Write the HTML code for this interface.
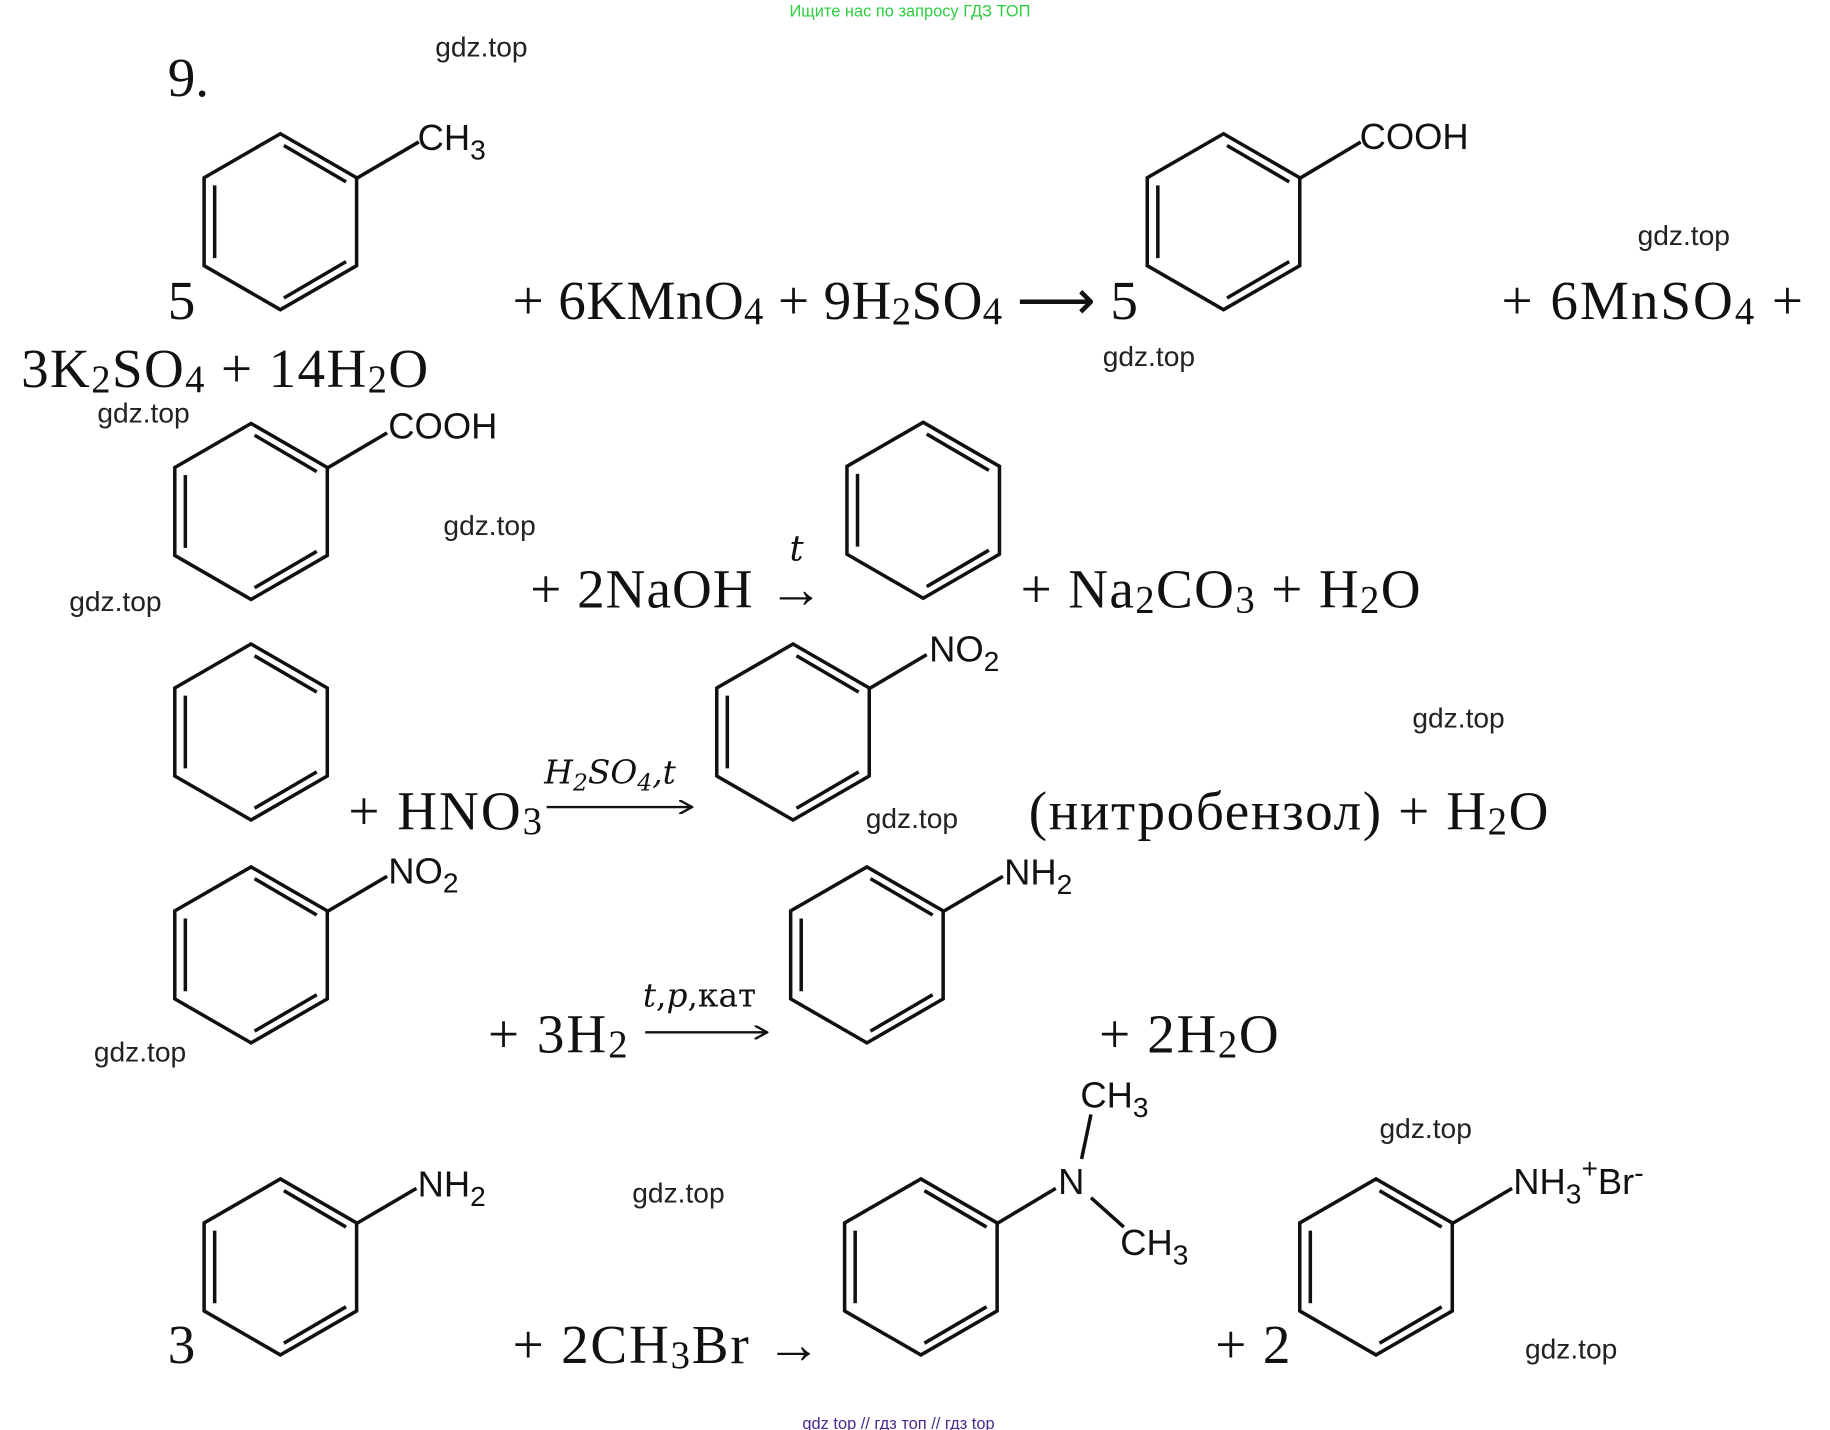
<!DOCTYPE html>
<html><head><meta charset="utf-8"><style>
html,body{margin:0;padding:0;background:#fff;}
svg{display:block}
.s{font-family:"Liberation Serif",serif;font-size:47px;fill:#111}
.a{font-family:"Liberation Sans",sans-serif;font-size:31px;fill:#111}
.w{font-family:"Liberation Sans",sans-serif;font-size:24px;fill:#222}
</style></head><body>
<svg width="1830" height="1430" viewBox="0 0 1560 1219" xmlns="http://www.w3.org/2000/svg">
<defs>
<g id="r" stroke="#111" stroke-width="3" fill="none">
<polygon points="0,-75 65,-37.5 65,37.5 0,75 -65,37.5 -65,-37.5"/>
<line x1="3" y1="-65" x2="56" y2="-34"/>
<line x1="56" y1="34" x2="3" y2="65"/>
<line x1="-56" y1="-31" x2="-56" y2="31"/>
</g>
<marker id="m" markerWidth="12" markerHeight="12" refX="11" refY="6" orient="auto" markerUnits="userSpaceOnUse"><path d="M0,0 L11,6 L0,12" fill="none" stroke="#111" stroke-width="2"/></marker>
</defs>
<text x="673" y="14" font-family="Liberation Sans,sans-serif" font-size="14" fill="#2ecc40">Ищите нас по запросу ГДЗ ТОП</text>
<text class="s" x="143" y="82">9.</text>
<g class="w"><text x="371" y="48">gdz.top</text><text x="1396" y="209">gdz.top</text><text x="940" y="312">gdz.top</text><text x="83" y="360">gdz.top</text><text x="378" y="456">gdz.top</text><text x="59" y="521">gdz.top</text><text x="1204" y="620">gdz.top</text><text x="738" y="706">gdz.top</text><text x="80" y="905">gdz.top</text><text x="1176" y="970">gdz.top</text><text x="539" y="1025">gdz.top</text><text x="1300" y="1158">gdz.top</text></g>

<!-- row 1 -->
<use href="#r" x="239" y="189"/>
<line x1="304" y1="152" x2="357" y2="121" stroke="#111" stroke-width="3"/>
<text class="a" x="356" y="128">CH<tspan font-size="24" dy="8">3</tspan></text>
<text class="s" x="143" y="272">5</text>
<text class="s" x="437" y="272" textLength="533" lengthAdjust="spacing">+ 6KMnO<tspan font-size="33" dy="4">4</tspan><tspan dy="-4"> + 9H</tspan><tspan font-size="33" dy="4">2</tspan><tspan dy="-4">SO</tspan><tspan font-size="33" dy="4">4</tspan><tspan dy="-4"> ⟶ 5</tspan></text>
<use href="#r" x="1043" y="189"/>
<line x1="1108" y1="152" x2="1160" y2="121" stroke="#111" stroke-width="3"/>
<text class="a" x="1159" y="127">COOH</text>
<text class="s" x="1280" y="272" textLength="257" lengthAdjust="spacing">+ 6MnSO<tspan font-size="33" dy="4">4</tspan><tspan dy="-4"> +</tspan></text>
<text class="s" x="18" y="330" textLength="347" lengthAdjust="spacing">3K<tspan font-size="33" dy="4">2</tspan><tspan dy="-4">SO</tspan><tspan font-size="33" dy="4">4</tspan><tspan dy="-4"> + 14H</tspan><tspan font-size="33" dy="4">2</tspan><tspan dy="-4">O</tspan></text>

<!-- row 2 -->
<use href="#r" x="214" y="436"/>
<line x1="279" y1="399" x2="330" y2="369" stroke="#111" stroke-width="3"/>
<text class="a" x="331" y="374">COOH</text>
<text class="s" x="452" y="518" textLength="250" lengthAdjust="spacing">+ 2NaOH →</text>
<text x="673" y="478" font-family="DejaVu Serif,serif" font-style="italic" font-size="30" fill="#111">t</text>
<use href="#r" x="787" y="435"/>
<text class="s" x="870" y="518" textLength="341" lengthAdjust="spacing">+ Na<tspan font-size="33" dy="4">2</tspan><tspan dy="-4">CO</tspan><tspan font-size="33" dy="4">3</tspan><tspan dy="-4"> + H</tspan><tspan font-size="33" dy="4">2</tspan><tspan dy="-4">O</tspan></text>

<!-- row 3 -->
<use href="#r" x="214" y="624"/>
<text class="s" x="297" y="707" textLength="165" lengthAdjust="spacing">+ HNO<tspan font-size="33" dy="4">3</tspan></text>
<line x1="466" y1="688" x2="590" y2="688" stroke="#111" stroke-width="2" marker-end="url(#m)"/>
<text x="464" y="668" font-family="DejaVu Serif,serif" font-style="italic" font-size="28" fill="#111">H<tspan font-size="20" dy="6">2</tspan><tspan dy="-6">SO</tspan><tspan font-size="20" dy="6">4</tspan><tspan dy="-6">,t</tspan></text>
<use href="#r" x="676" y="624"/>
<line x1="741" y1="587" x2="790" y2="558" stroke="#111" stroke-width="3"/>
<text class="a" x="792" y="564">NO<tspan font-size="24" dy="8">2</tspan></text>
<text class="s" x="877" y="707" textLength="443" lengthAdjust="spacing">(нитробензол) + H<tspan font-size="33" dy="4">2</tspan><tspan dy="-4">O</tspan></text>

<!-- row 4 -->
<use href="#r" x="214" y="814"/>
<line x1="279" y1="777" x2="330" y2="747" stroke="#111" stroke-width="3"/>
<text class="a" x="331" y="753">NO<tspan font-size="24" dy="8">2</tspan></text>
<text class="s" x="416" y="897" textLength="119" lengthAdjust="spacing">+ 3H<tspan font-size="33" dy="4">2</tspan></text>
<line x1="550" y1="880" x2="654" y2="880" stroke="#111" stroke-width="2" marker-end="url(#m)"/>
<text x="548" y="858" font-family="DejaVu Serif,serif" font-size="28" fill="#111"><tspan font-style="italic">t</tspan>,<tspan font-style="italic">p</tspan>,кат</text>
<use href="#r" x="739" y="814"/>
<line x1="804" y1="777" x2="855" y2="747" stroke="#111" stroke-width="3"/>
<text class="a" x="856" y="754">NH<tspan font-size="24" dy="8">2</tspan></text>
<text class="s" x="937" y="897" textLength="153" lengthAdjust="spacing">+ 2H<tspan font-size="33" dy="4">2</tspan><tspan dy="-4">O</tspan></text>

<!-- row 5 -->
<use href="#r" x="239" y="1080"/>
<line x1="304" y1="1043" x2="355" y2="1013" stroke="#111" stroke-width="3"/>
<text class="a" x="356" y="1020">NH<tspan font-size="24" dy="8">2</tspan></text>
<text class="s" x="143" y="1162">3</text>
<text class="s" x="437" y="1162" textLength="263" lengthAdjust="spacing">+ 2CH<tspan font-size="33" dy="4">3</tspan><tspan dy="-4">Br →</tspan></text>
<use href="#r" x="785" y="1080"/>
<line x1="850" y1="1043" x2="900" y2="1013" stroke="#111" stroke-width="3"/>
<text class="a" x="902" y="1018">N</text>
<line x1="922" y1="988" x2="930" y2="950" stroke="#111" stroke-width="3"/>
<line x1="930" y1="1021" x2="958" y2="1046" stroke="#111" stroke-width="3"/>
<text class="a" x="921" y="944">CH<tspan font-size="24" dy="8">3</tspan></text>
<text class="a" x="955" y="1070">CH<tspan font-size="24" dy="8">3</tspan></text>
<text class="s" x="1036" y="1162" textLength="64" lengthAdjust="spacing">+ 2</text>
<use href="#r" x="1173" y="1080"/>
<line x1="1238" y1="1043" x2="1289" y2="1013" stroke="#111" stroke-width="3"/>
<text class="a" x="1290" y="1018">NH<tspan font-size="24" dy="8">3</tspan><tspan font-size="24" dy="-22">+</tspan><tspan dy="14">Br</tspan><tspan font-size="24" dy="-10">-</tspan></text>

<text x="684" y="1218" font-family="Liberation Sans,sans-serif" font-size="14" fill="#4b2a8a">gdz top  //  гдз топ  //  гдз top</text>
</svg>
</body></html>
